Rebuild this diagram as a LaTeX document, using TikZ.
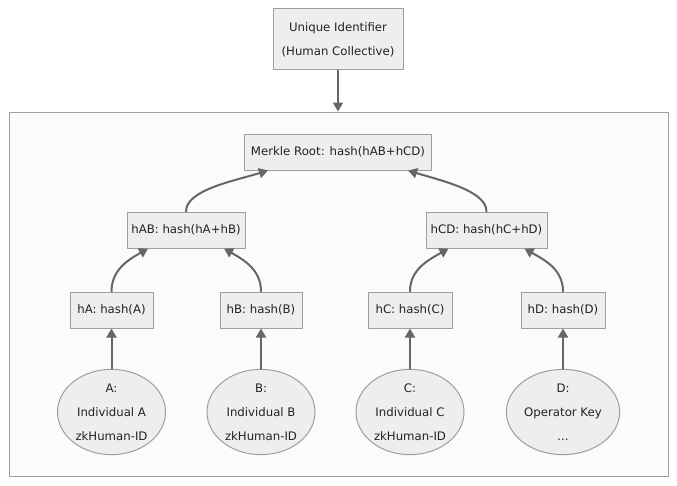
\documentclass[tikz,border=0pt]{standalone}
\usepackage{fontspec}
\setmainfont{DejaVu Sans}
\usetikzlibrary{arrows.meta,shapes.geometric}
\definecolor{boxfill}{HTML}{EEEEEE}
\definecolor{boxline}{HTML}{9E9E9E}
\definecolor{treefill}{HTML}{FBFBFB}
\definecolor{linkgray}{HTML}{666666}
\definecolor{textgray}{HTML}{222222}

\begin{document}
\begin{tikzpicture}[line cap=round,line join=round,x=0.75pt,y=-0.75pt,
    hashbox/.style={draw=boxline,fill=boxfill,line width=0.75pt,inner sep=0pt,
        minimum height=27pt,align=center,text=textgray,
        font=\fontsize{8.8}{18}\selectfont},
    leaf/.style={ellipse,draw=boxline,fill=boxfill,line width=0.75pt,inner sep=0pt,
        minimum width=81pt,minimum height=64pt,align=center,text=textgray,
        font=\fontsize{8.8}{18}\selectfont},
    link/.style={-{Triangle[length=6.75pt,width=7.5pt]},line width=1.5pt,color=linkgray}]

    \useasboundingbox (0,0) rectangle (677,485);

    % cluster round the tree
    \node (tree) [draw=boxline,fill=treefill,line width=0.75pt,minimum width=494.25pt,
        minimum height=273pt] at (338.5,294) {};

    \node (uid) [hashbox,minimum width=97.5pt,minimum height=45.75pt] at (338,39.5)
        {Unique Identifier\\(Human Collective)};

    \node (root) [hashbox,minimum width=140.25pt] at (338,152) {Merkle Root: hash(hAB+hCD)};

    \node (hAB) [hashbox,minimum width=88.5pt] at (186,230) {hAB: hash(hA+hB)};
    \node (hCD) [hashbox,minimum width=90.75pt] at (486.5,230) {hCD: hash(hC+hD)};

    \node (hA) [hashbox,minimum width=62.25pt] at (111.5,310) {hA: hash(A)};
    \node (hB) [hashbox,minimum width=61.5pt] at (261,310) {hB: hash(B)};
    \node (hC) [hashbox,minimum width=63pt] at (410,310) {hC: hash(C)};
    \node (hD) [hashbox,minimum width=63pt] at (563,310) {hD: hash(D)};

    \node (leafA) [leaf] at (111.5,412) {A:\\Individual A\\zkHuman-ID};
    \node (leafB) [leaf] at (261,412) {B:\\Individual B\\zkHuman-ID};
    \node (leafC) [leaf] at (410,412) {C:\\Individual C\\zkHuman-ID};
    \node (leafD) [leaf,minimum width=85pt] at (563,412) {D:\\Operator Key\\...};

    \draw [link] (uid.south) -- (uid.south |- tree.north);

    \draw [link] (hAB.north) to[out=90,in=-163,out looseness=0.6] ([xshift=-52.5pt]root.south);
    \draw [link] (hCD.north) to[out=90,in=-17,out looseness=0.6] ([xshift=52.5pt]root.south);

    \draw [link] (hA.north) to[out=90,in=-150] ([xshift=-28.5pt]hAB.south);
    \draw [link] (hB.north) to[out=90,in=-30] ([xshift=28.5pt]hAB.south);
    \draw [link] (hC.north) to[out=90,in=-150] ([xshift=-28.5pt]hCD.south);
    \draw [link] (hD.north) to[out=90,in=-30] ([xshift=28.5pt]hCD.south);

    \draw [link] (leafA.north) -- (hA.south);
    \draw [link] (leafB.north) -- (hB.south);
    \draw [link] (leafC.north) -- (hC.south);
    \draw [link] (leafD.north) -- (hD.south);
\end{tikzpicture}
\end{document}
